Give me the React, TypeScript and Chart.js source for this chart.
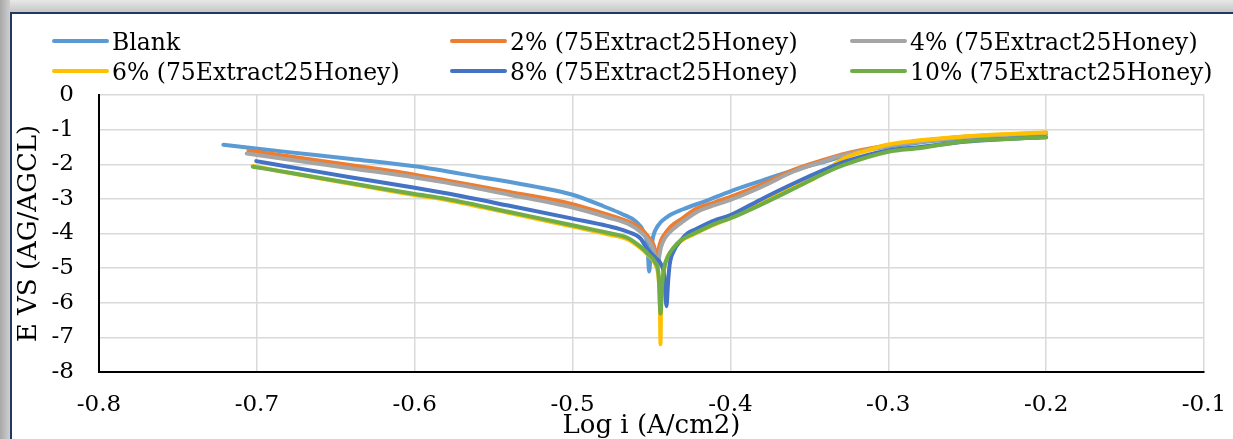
import { useEffect, useRef } from 'react';
import { Chart, registerables } from 'chart.js';

Chart.register(...registerables);

const seriesNames = [
  'Blank',
  '2% (75Extract25Honey)',
  '4% (75Extract25Honey)',
  '6% (75Extract25Honey)',
  '8% (75Extract25Honey)',
  '10% (75Extract25Honey)',
];
const seriesColors = ['#5B9BD5', '#ED7D31', '#A5A5A5', '#FFC000', '#4472C4', '#70AD47'];

const blankX = [-0.7212, -0.68, -0.64, -0.6, -0.56, -0.52, -0.5, -0.48, -0.468, -0.46, -0.455, -0.4525, -0.4515, -0.4505, -0.449, -0.446, -0.44, -0.43, -0.415, -0.4, -0.38, -0.36, -0.34, -0.32, -0.3, -0.28, -0.25, -0.22, -0.2];
const blankY = [-1.44, -1.65, -1.85, -2.06, -2.36, -2.68, -2.88, -3.22, -3.45, -3.65, -3.95, -4.4, -5.1, -4.6, -4.1, -3.78, -3.52, -3.3, -3.05, -2.78, -2.47, -2.17, -1.92, -1.65, -1.49, -1.37, -1.25, -1.17, -1.12];

const p2X = [-0.7053, -0.68, -0.64, -0.6, -0.58, -0.54, -0.5, -0.478, -0.465, -0.457, -0.452, -0.4485, -0.4465, -0.4455, -0.444, -0.4405, -0.4379, -0.43, -0.4231, -0.41, -0.4, -0.38, -0.36, -0.34, -0.328, -0.3, -0.28, -0.25, -0.22, -0.2];
const p2Y = [-1.61, -1.77, -2.03, -2.3, -2.47, -2.8, -3.15, -3.45, -3.65, -3.85, -4.1, -4.35, -4.7, -4.45, -4.2, -3.95, -3.8, -3.55, -3.32, -3.1, -2.94, -2.58, -2.16, -1.86, -1.7, -1.45, -1.33, -1.2, -1.13, -1.09];

const p4X = [-0.7064, -0.68, -0.64, -0.6, -0.58, -0.54, -0.5, -0.478, -0.465, -0.457, -0.452, -0.4485, -0.4462, -0.4452, -0.444, -0.441, -0.437, -0.43, -0.42, -0.41, -0.4, -0.38, -0.36, -0.34, -0.328, -0.3, -0.28, -0.25, -0.22, -0.2];
const p4Y = [-1.69, -1.86, -2.12, -2.38, -2.53, -2.88, -3.25, -3.53, -3.72, -3.95, -4.2, -4.5, -5.0, -4.7, -4.4, -4.1, -3.9, -3.65, -3.35, -3.18, -3.03, -2.65, -2.21, -1.9, -1.73, -1.47, -1.35, -1.21, -1.14, -1.1];

const p6X = [-0.7026, -0.68, -0.64, -0.6, -0.58, -0.54, -0.5, -0.478, -0.465, -0.457, -0.452, -0.4475, -0.4455, -0.4447, -0.4443, -0.4439, -0.4431, -0.442, -0.4395, -0.4358, -0.4315, -0.4231, -0.41, -0.4, -0.3813, -0.368, -0.347, -0.328, -0.31, -0.3, -0.28, -0.25, -0.22, -0.2];
const p6Y = [-2.05, -2.25, -2.57, -2.89, -3.03, -3.41, -3.8, -4.02, -4.17, -4.42, -4.63, -4.9, -5.3, -6.0, -7.2, -6.0, -5.4, -5.0, -4.65, -4.42, -4.22, -4.02, -3.74, -3.56, -3.15, -2.8, -2.41, -1.83, -1.56, -1.43, -1.31, -1.19, -1.12, -1.08];

const p8X = [-0.7004, -0.68, -0.64, -0.6, -0.58, -0.54, -0.5, -0.478, -0.465, -0.457, -0.4527, -0.4475, -0.4443, -0.442, -0.4405, -0.4395, -0.4385, -0.4358, -0.4315, -0.4274, -0.4231, -0.41, -0.4, -0.3813, -0.3597, -0.34, -0.328, -0.3, -0.2794, -0.252, -0.225, -0.2];
const p8Y = [-1.91, -2.07, -2.38, -2.68, -2.84, -3.2, -3.57, -3.78, -3.95, -4.14, -4.45, -4.7, -4.86, -5.2, -6.1, -5.4, -4.9, -4.5, -4.2, -4.0, -3.9, -3.62, -3.47, -3.03, -2.55, -2.15, -1.93, -1.6, -1.5, -1.35, -1.27, -1.22];

const p10X = [-0.7026, -0.68, -0.64, -0.6, -0.58, -0.54, -0.5, -0.478, -0.465, -0.457, -0.452, -0.4475, -0.4455, -0.4443, -0.4433, -0.442, -0.4395, -0.4358, -0.4315, -0.4231, -0.41, -0.4, -0.3813, -0.3597, -0.34, -0.328, -0.3, -0.2794, -0.252, -0.225, -0.2];
const p10Y = [-2.07, -2.24, -2.55, -2.86, -3.0, -3.38, -3.76, -3.98, -4.13, -4.38, -4.6, -4.85, -5.2, -6.31, -5.5, -5.0, -4.65, -4.4, -4.2, -4.0, -3.72, -3.56, -3.18, -2.7, -2.25, -2.02, -1.64, -1.53, -1.34, -1.27, -1.22];

const seriesX = [blankX, p2X, p4X, p6X, p8X, p10X];
const seriesY = [blankY, p2Y, p4Y, p6Y, p8Y, p10Y];

const xTickValues = [-0.8, -0.7, -0.6, -0.5, -0.4, -0.3, -0.2, -0.1];
const xTickLabels = ['-0.8', '-0.7', '-0.6', '-0.5', '-0.4', '-0.3', '-0.2', '-0.1'];
const yTickValues = [-8, -7, -6, -5, -4, -3, -2, -1, 0];
const yTickLabels = ['-8', '-7', '-6', '-5', '-4', '-3', '-2', '-1', '0'];

const xTitle = 'Log i (A/cm2)';
const yTitle = 'E VS (AG/AGCL)';

const FONT = '"DejaVu Serif", "Liberation Serif", serif';

const legendColX = [54, 452, 852];
const legendRowY = [41, 71];

const gridLegend = {
  id: 'gridLegend',
  afterDraw(chart: any) {
    const ctx = chart.ctx;
    ctx.save();
    ctx.font = `23.5px ${FONT}`;
    ctx.textBaseline = 'alphabetic';
    ctx.textAlign = 'left';
    chart.data.datasets.forEach((ds: any, i: number) => {
      const x0 = legendColX[i % 3];
      const y = legendRowY[Math.floor(i / 3)];
      ctx.strokeStyle = ds.borderColor;
      ctx.lineWidth = 4;
      ctx.lineCap = 'round';
      ctx.beginPath();
      ctx.moveTo(x0, y);
      ctx.lineTo(x0 + 53, y);
      ctx.stroke();
      ctx.fillStyle = '#000';
      ctx.fillText(ds.label, x0 + 58, y + 9);
    });
    ctx.restore();
  },
};

export default function App() {
  const canvasRef = useRef<HTMLCanvasElement | null>(null);

  useEffect(() => {
    if (!canvasRef.current) return;
    const datasets = seriesNames.map((name, i) => ({
      label: name,
      data: seriesX[i].map((x, j) => ({ x, y: seriesY[i][j] })),
      borderColor: seriesColors[i],
      backgroundColor: seriesColors[i],
      showLine: true,
      borderWidth: 4,
      pointRadius: 0,
      cubicInterpolationMode: 'monotone' as const,
      borderCapStyle: 'round' as const,
      borderJoinStyle: 'round' as const,
      order: seriesNames.length - 1 - i,
    }));

    const chart = new Chart(canvasRef.current, {
      type: 'scatter',
      data: { datasets },
      plugins: [gridLegend],
      options: {
        responsive: false,
        animation: false,
        layout: { padding: { top: 95, right: 29, left: 0, bottom: 0 } },
        plugins: { legend: { display: false }, tooltip: { enabled: false } },
        scales: {
          x: {
            type: 'linear',
            min: -0.8,
            max: -0.1,
            afterFit: (s: any) => {
              s.height = 67;
            },
            afterBuildTicks: (s: any) => {
              s.ticks = xTickValues.map((v) => ({ value: v }));
            },
            ticks: {
              color: '#000',
              padding: 6,
              font: { family: FONT, size: 23, lineHeight: 2.35 },
              maxRotation: 0,
              autoSkip: false,
              callback: (v: any) => xTickLabels[xTickValues.findIndex((t) => Math.abs(t - Number(v)) < 1e-6)],
            },
            grid: { color: '#d9d9d9', lineWidth: 1.5, drawTicks: false },
            border: { color: '#000', width: 2 },
            title: {
              display: true,
              text: xTitle,
              color: '#000',
              font: { family: FONT, size: 26, lineHeight: 1.0 },
              padding: 0,
            },
          },
          y: {
            type: 'linear',
            min: -8,
            max: 0,
            afterFit: (s: any) => {
              s.width = 99;
            },
            afterBuildTicks: (s: any) => {
              s.ticks = yTickValues.map((v) => ({ value: v }));
            },
            ticks: {
              color: '#000',
              padding: 25,
              font: { family: FONT, size: 23 },
              autoSkip: false,
              callback: (v: any) => yTickLabels[yTickValues.indexOf(Math.round(Number(v)))],
            },
            grid: { color: '#d9d9d9', lineWidth: 1.5, drawTicks: false },
            border: { color: '#000', width: 2 },
            title: {
              display: true,
              text: yTitle,
              color: '#000',
              font: { family: FONT, size: 26, lineHeight: 1.2 },
              padding: { top: 14, bottom: 0 },
            },
          },
        },
      },
    });
    return () => chart.destroy();
  }, []);

  return (
    <div style={{ position: 'fixed', left: 0, top: 0, width: 1233, height: 439, overflow: 'hidden', background: '#ffffff' }}>
      <div style={{ position: 'absolute', left: 0, top: 0, width: 1233, height: 12, background: 'linear-gradient(#e8e8e8, #c6c6c6)' }} />
      <div style={{ position: 'absolute', left: 0, top: 0, width: 10, height: 439, background: 'linear-gradient(to right, #a8a8a8, #cfcfcf)' }} />
      <div style={{ position: 'absolute', left: 10, top: 12, width: 1223, height: 2, background: '#1F3864' }} />
      <div style={{ position: 'absolute', left: 10, top: 12, width: 2, height: 427, background: '#1F3864' }} />
      <canvas ref={canvasRef} width={1233} height={439} style={{ position: 'absolute', left: 0, top: 0, width: 1233, height: 439 }} />
    </div>
  );
}
